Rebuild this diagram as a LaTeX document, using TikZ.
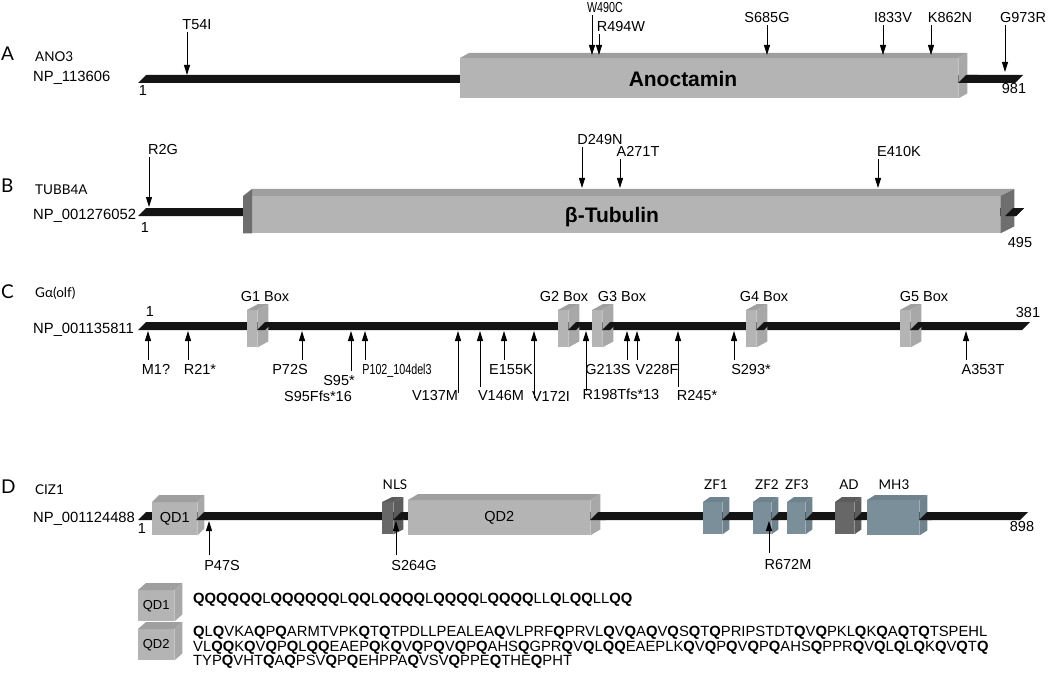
\documentclass[tikz,border=0pt]{standalone}
\usepackage{fontspec}
\setmainfont{Liberation Sans}
\newfontfamily\genefont{Lato}
\newfontfamily\narrowfont[FakeStretch=0.74]{Liberation Sans}
\usetikzlibrary{arrows.meta,calc}

\definecolor{barblack}{HTML}{141414}
\definecolor{boxgray}{HTML}{B4B4B4}
\definecolor{boxtop}{HTML}{9F9F9F}
\definecolor{boxside}{HTML}{A8A8A8}
\definecolor{edgegray}{HTML}{6E6E6E}
\definecolor{motifgray}{HTML}{676767}
\definecolor{motifside}{HTML}{5C5C5C}
\definecolor{zfblue}{HTML}{7B8F9B}
\definecolor{zfside}{HTML}{6F838F}

% protein backbone piece: x0, x1, top y
\newcommand{\protbar}[3]{\fill[barblack] ({#1},{#3+8}) -- ({#1+8},{#3}) -- ({#2},{#3}) -- ({#2-8},{#3+8}) -- cycle;}
% 3D faces of a domain block: node, dx, dy, colour
\newcommand{\slabtop}[4]{\fill[#4] (#1.north west) -- ++(#2,-#3) -- ([shift={(#2,-#3)}]#1.north east) -- (#1.north east) -- cycle;}
\newcommand{\slabside}[4]{\fill[#4] (#1.north east) -- ++(#2,-#3) -- ([shift={(#2,-#3)}]#1.south east) -- (#1.south east) -- cycle;}
% bold Q in sequences
\def\seqloop#1{\ifx#1\relax\else\ifx#1Q\textbf{Q}\else#1\fi\expandafter\seqloop\fi}
\newcommand{\seqfmt}[1]{\seqloop#1\relax}

\tikzset{
  mut/.style={font=\fontsize{14.5}{16}\selectfont, inner sep=0pt, text height=10.4pt, text depth=0pt},
  plain/.style={},
  squeeze/.style={font=\narrowfont\fontsize{14.5}{16}\selectfont},
  arr/.style={-{Triangle[length=10pt,width=6pt]}, line width=1pt},
  gene/.style={font=\genefont\fontsize{13.5}{15}\selectfont, inner sep=0pt, text height=9.6pt, text depth=0pt},
  panel/.style={font=\genefont\fontsize{19}{20}\selectfont, inner sep=0pt, anchor=west, text height=13.5pt, text depth=0pt},
  acc/.style={font=\fontsize{14.8}{16}\selectfont, inner sep=0pt, anchor=west, text height=10.6pt, text depth=0pt},
  title/.style={font=\bfseries\fontsize{21}{24}\selectfont, inner sep=0pt, text height=15pt, text depth=0pt},
  slab/.style={fill=#1, inner sep=0pt, anchor=north west, font=\fontsize{14.5}{16}\selectfont},
  seq/.style={font=\fontsize{14.8}{14.5}\selectfont, inner sep=0pt, align=left}
}

\begin{document}
\begin{tikzpicture}[x=1pt,y=-1pt]
\useasboundingbox (0,0) rectangle (1050,674);

%A
\node[panel] (pa) at (1,54) {A};
\node[gene,anchor=west] (ano3) at (35,57) {ANO3};
\node[acc] (npa) at (33,76) {NP\_113606};
\protbar{138}{1023}{75}
\node[slab=boxgray, minimum width=498pt, minimum height=40pt] (anobox) at (460,58) {};
\slabtop{anobox}{9}{5}{boxtop}
\slabside{anobox}{9}{5}{boxside}
\protbar{958}{978}{75}
\node[title] (anolbl) at (683,79) {Anoctamin};
\node[mut] (a1) at (143,90) {1};
\node[mut] (a981) at (1014,88) {981};

\foreach \x/\lbl/\st/\lx/\ly/\e [count=\i] in {187/T54I/plain/197/24/75, 592/W490C/squeeze/605/7/55,
  599/R494W/plain/621/26/55, 767/S685G/plain/767/17/55, 883/I833V/plain/893/17/55, 931/K862N/plain/950/17/55,
  1005/G973R/plain/1023/17/72}
{
  \node[mut,\st] (ma\i) at (\lx,\ly) {\lbl};
  \coordinate (ta\i) at (\x,\e);
  \draw[arr] ($(ma\i.south -| ta\i)+(0,3)$) -- (ta\i);
}

%B
\node[panel] (pb) at (1,186) {B};
\node[gene,anchor=west] (tubb) at (35,190) {TUBB4A};
\node[acc] (npb) at (33,214) {NP\_001276052};
\protbar{138}{1024}{208}
\node[slab=boxgray, minimum width=748pt, minimum height=37pt] (tubbox) at (252,196) {};
\fill[boxtop] (tubbox.north west) -- ++(0,-7) -- ([shift={(14,-7)}]tubbox.north east) -- (tubbox.north east) -- cycle;
\fill[edgegray] ([xshift=-9pt]tubbox.south west) -- ([xshift=-9pt]tubbox.north west) -- ([shift={(0,-7)}]tubbox.north west) -- (tubbox.south west) -- cycle;
\slabside{tubbox}{14}{7}{edgegray}
\protbar{1005}{1024}{208}
\node[title] (tublbl) at (612,215) {β-Tubulin};
\node[mut] (b1) at (145,227) {1};
\node[mut] (b495) at (1020,242) {495};

\foreach \x/\lbl/\lx/\ly/\e [count=\i] in {149/R2G/163/149/207, 582/D249N/600/139/188,
  620/A271T/638/151/188, 878/E410K/899/151/188}
{
  \node[mut] (mb\i) at (\lx,\ly) {\lbl};
  \coordinate (tb\i) at (\x,\e);
  \draw[arr] ($(mb\i.south -| tb\i)+(0,3)$) -- (tb\i);
}

%C
\node[panel] (pc) at (1,292) {C};
\node[gene,anchor=west] (golf) at (35,293) {Gα(olf)};
\node[acc] (npc) at (33,328) {NP\_001135811};
\protbar{138}{1030}{322}
\foreach \x/\lx [count=\i] in {247/265, 558/564, 592/622, 746/764, 900/924}
{
  \node[slab=boxgray, minimum width=10pt, minimum height=37pt] (g\i) at (\x,310) {};
  \slabtop{g\i}{11}{6}{boxtop}
  \slabside{g\i}{11}{6}{boxside}
  \protbar{\x+10}{\x+26}{322}
  \node[mut] (gl\i) at (\lx,296) {G\i\ Box};
}
\node[mut] (c1) at (150,311) {1};
\node[mut] (c381) at (1028,312) {381};

\foreach \x/\lbl/\st/\lx/\ly/\e [count=\i] in {148/M1?/plain/156/369/360, 188/R21*/plain/200/369/360,
  302/P72S/plain/290/369/360, 351/S95*/plain/339/380/371, 365/P102\_104del3/squeeze/397/369/360,
  458/V137M/plain/435/395/393, 480/V146M/plain/501/395/387, 504/E155K/plain/511/369/360,
  534/V172I/plain/551/396/398, 586/R198Tfs*13/plain/621/394/391, 627/G213S/plain/608/369/360,
  637/V228F/plain/657/369/360, 678/R245*/plain/697/395/387, 734/S293*/plain/751/369/360,
  966/A353T/plain/983/369/360}
{
  \node[mut,\st] (mc\i) at (\lx,\ly) {\lbl};
  \coordinate (tc\i) at (\x,331);
  \coordinate (ec\i) at (\x,\e);
  \draw[arr] (ec\i) -- (tc\i);
}
\node[mut] (mc16) at (318,396) {S95Ffs*16};

%D
\node[panel] (pd) at (1,487) {D};
\node[gene,anchor=west] (ciz) at (35,490) {CIZ1};
\node[acc] (npd) at (33,517) {NP\_001124488};
\protbar{138}{1028}{512}

\node[slab=boxgray, minimum width=45pt, minimum height=33pt] (qd1) at (152,502) {QD1};
\slabtop{qd1}{7}{7}{boxtop}
\slabside{qd1}{7}{7}{boxside}
\protbar{196}{216}{512}

\node[slab=motifgray, minimum width=11pt, minimum height=32pt] (nls) at (382,502) {};
\slabtop{nls}{10}{5}{motifside}
\slabside{nls}{10}{5}{motifside}
\protbar{393}{410}{512}

\node[slab=boxgray, minimum width=182pt, minimum height=35pt] (qd2) at (408,500) {QD2};
\slabtop{qd2}{10}{6}{boxtop}
\slabside{qd2}{10}{6}{boxside}
\protbar{590}{614}{512}

\foreach \n/\x/\w/\c/\s in {zfa/703/19/zfblue/zfside, zfb/753/18/zfblue/zfside, zfc/787/18/zfblue/zfside,
  ad/835/19/motifgray/motifside}
{
  \node[slab=\c, minimum width=\w pt, minimum height=32pt] (\n) at (\x,502) {};
  \slabtop{\n}{7}{5}{\s}
  \slabside{\n}{7}{5}{\s}
  \protbar{\x+\w}{\x+\w+16}{512}
}
\node[slab=zfblue, minimum width=52pt, minimum height=35pt] (mh3) at (867,500) {};
\slabtop{mh3}{8}{5}{zfside}
\slabside{mh3}{8}{5}{zfside}
\protbar{919}{940}{512}

\node[gene] (nlsl) at (395,485) {NLS};
\node[gene] (zfal) at (716,485) {ZF1};
\node[gene] (zfbl) at (767,485) {ZF2};
\node[gene] (zfcl) at (797,485) {ZF3};
\node[gene] (adl) at (849,485) {AD};
\node[gene] (mh3l) at (894,485) {MH3};
\node[mut] (d1) at (142,528) {1};
\node[mut] (d898) at (1022,526) {898};

\foreach \x/\lbl/\lx/\ly/\e [count=\i] in {209/P47S/222/565/555, 396/S264G/414/565/555, 769/R672M/788/564/553}
{
  \node[mut] (md\i) at (\lx,\ly) {\lbl};
  \coordinate (td\i) at (\x,521);
  \coordinate (ed\i) at (\x,\e);
  \draw[arr] (ed\i) -- (td\i);
}

%Sequenzen
\node[slab=boxgray, minimum width=36pt, minimum height=31pt, font=\fontsize{13}{14}\selectfont] (qd1s) at (138,590) {QD1};
\slabtop{qd1s}{8}{7}{boxtop}
\slabside{qd1s}{8}{7}{boxside}
\node[slab=boxgray, minimum width=36pt, minimum height=31pt, font=\fontsize{13}{14}\selectfont] (qd2s) at (138,629) {QD2};
\slabtop{qd2s}{8}{7}{boxtop}
\slabside{qd2s}{8}{7}{boxside}

\node[seq, anchor=west, text height=10.6pt, text depth=0pt] (seq1) at (193,598) {\seqfmt{QQQQQQLQQQQQQLQQLQQQQLQQQQLQQQQLLQLQQLLQQ}};
\node[seq, anchor=north west] (seq2) at (193,626) {\seqfmt{QLQVKAQPQARMTVPKQTQTPDLLPEALEAQVLPRFQPRVLQVQAQVQSQTQPRIPSTDTQVQPKLQKQAQTQTSPEHL}\\
  \seqfmt{VLQQKQVQPQLQQEAEPQKQVQPQVQPQAHSQGPRQVQLQQEAEPLKQVQPQVQPQAHSQPPRQVQLQLQKQVQTQ}\\
  \seqfmt{TYPQVHTQAQPSVQPQEHPPAQVSVQPPEQTHEQPHT}};

\end{tikzpicture}
\end{document}
